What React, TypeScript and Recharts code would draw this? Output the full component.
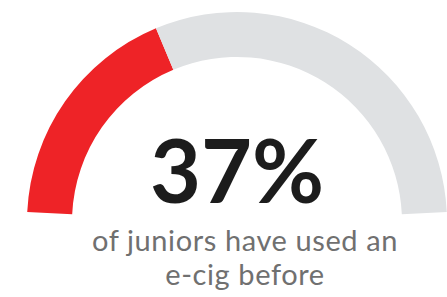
import React from "react";
import { PieChart, Pie, Cell } from "recharts";

const categories = ["Have used an e-cig", "Have not"];
const values = [37, 63];
const colors = ["#ee2327", "#dfe1e3"];
const headline = "37%";
const captionLines = ["of juniors have used an", "e-cig before"];

const data = categories.map((name, i) => ({ name, value: values[i] }));

export default function App() {
  return (
    <div style={{ position: "fixed", left: 0, top: 0, width: 447, height: 297, background: "#fff" }}>
      <PieChart width={447} height={297} margin={{ top: 0, right: 0, bottom: 0, left: 0 }}>
        <Pie
          data={data}
          dataKey="value"
          nameKey="name"
          cx={237}
          cy={222}
          startAngle={177.3}
          endAngle={2.7}
          innerRadius={165}
          outerRadius={210}
          stroke="none"
          isAnimationActive={false}
        >
          {data.map((d, i) => (
            <Cell key={d.name} fill={colors[i]} />
          ))}
        </Pie>
        <text
          x={237}
          y={203}
          textAnchor="middle"
          fontFamily="Lato"
          fontWeight={700}
          fontSize={88}
          fill="#1c1c1c"
        >
          {headline}
        </text>
        <text
          x={245}
          y={251}
          textAnchor="middle"
          fontFamily="Lato"
          fontSize={29}
          letterSpacing={0.6}
          fill="#707070"
        >
          {captionLines[0]}
        </text>
        <text
          x={245}
          y={285}
          textAnchor="middle"
          fontFamily="Lato"
          fontSize={29}
          letterSpacing={0.6}
          fill="#707070"
        >
          {captionLines[1]}
        </text>
      </PieChart>
    </div>
  );
}
